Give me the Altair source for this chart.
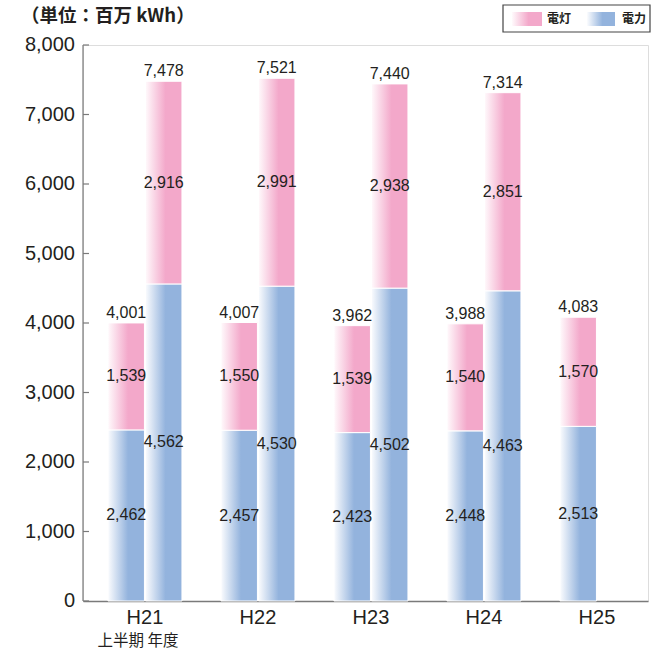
import altair as alt
import pandas as pd

# 販売電力量（単位：百万 kWh）
years = ["H21", "H22", "H23", "H24", "H25"]
periods = ["上半期", "年度"]

half_power = [2462, 2457, 2423, 2448, 2513]   # 上半期 電力
half_light = [1539, 1550, 1539, 1540, 1570]   # 上半期 電灯
half_total = [4001, 4007, 3962, 3988, 4083]   # 上半期 合計

year_power = [4562, 4530, 4502, 4463]         # 年度 電力
year_light = [2916, 2991, 2938, 2851]         # 年度 電灯
year_total = [7478, 7521, 7440, 7314]         # 年度 合計

y_ticks = [0, 1000, 2000, 3000, 4000, 5000, 6000, 7000, 8000]
legend_names = ["電灯", "電力"]

NUM_FONT = "Liberation Sans"
JP_FONT = "Noto Sans CJK JP"
TEXT_COLOR = "#231f20"
AXIS_COLOR = "#7a7a7a"
BLUE = "#93b3dd"
PINK = "#f3a8ca"

rows = []
for i, yr in enumerate(years):
    rows.append(dict(year=yr, period=periods[0], power=half_power[i],
                     light=half_light[i], total=half_total[i]))
for i, yr in enumerate(years[: len(year_power)]):
    rows.append(dict(year=yr, period=periods[1], power=year_power[i],
                     light=year_light[i], total=year_total[i]))
df = pd.DataFrame(rows)
ticks_df = pd.DataFrame({"v": y_ticks})


def grad(color, start):
    return alt.Gradient(
        gradient="linear",
        stops=[
            alt.GradientStop(offset=0, color=start),
            alt.GradientStop(offset=0.55, color=color),
            alt.GradientStop(offset=1, color=color),
        ],
        x1=0, x2=1, y1=0, y2=0,
    )


x_enc = alt.X(
    "year:N",
    sort=years,
    title=None,
    scale=alt.Scale(paddingInner=0.345, paddingOuter=0.1725, align=0.64),
    axis=alt.Axis(
        labelAngle=0, ticks=False, labelFontSize=20, labelFont=NUM_FONT,
        labelColor=TEXT_COLOR, labelPadding=6, domainColor=AXIS_COLOR,
        domainWidth=1.5, grid=False,
    ),
)
xo_enc = alt.XOffset(
    "period:N", sort=periods,
    scale=alt.Scale(domain=periods, paddingInner=0.027, paddingOuter=0),
)
y_scale = alt.Scale(domain=[0, 8000], nice=False)


def y_of(field):
    return alt.Y(field, scale=y_scale, title=None, axis=None)


base = alt.Chart(df).encode(x=x_enc, xOffset=xo_enc)

blue_bars = base.mark_bar(
    fill=grad(BLUE, "#fbfcfe"), stroke="white", strokeWidth=1
).encode(y=y_of("power:Q"))

pink_bars = base.mark_bar(
    fill=grad(PINK, "#fffafc"), stroke="white", strokeWidth=1
).encode(y=y_of("total:Q"), y2="power:Q")

label_style = dict(fontSize=16, font=NUM_FONT, color=TEXT_COLOR)

power_labels = base.transform_calculate(
    ym="datum.power / 2"
).mark_text(baseline="middle", **label_style).encode(
    y=y_of("ym:Q"),
    text=alt.Text("power:Q", format=","),
)

light_labels = base.transform_calculate(
    ym="datum.power + datum.light / 2"
).mark_text(baseline="middle", **label_style).encode(
    y=y_of("ym:Q"),
    text=alt.Text("light:Q", format=","),
)

total_labels = base.mark_text(
    baseline="alphabetic", dy=-5, **label_style
).encode(
    y=y_of("total:Q"),
    text=alt.Text("total:Q", format=","),
)

# value axis: line, inward ticks and labels
y_line = alt.Chart(alt.Data(values=[{}])).mark_rule(
    color=AXIS_COLOR, strokeWidth=1.2
).encode(x=alt.value(0), y=alt.value(0), y2=alt.value(556))

tick_marks = alt.Chart(ticks_df).mark_rule(
    color=AXIS_COLOR, strokeWidth=1.2
).encode(
    y=y_of("v:Q"),
    x=alt.value(0),
    x2=alt.value(6),
)

tick_labels = alt.Chart(ticks_df).mark_text(
    align="right", baseline="middle", fontSize=20, font=NUM_FONT,
    color=TEXT_COLOR, dx=-8,
).encode(
    y=y_of("v:Q"),
    x=alt.value(0),
    text=alt.Text("v:Q", format=","),
)

period_note = alt.Chart(
    pd.DataFrame({"year": [years[0]], "note": ["上半期 年度"]})
).mark_text(
    dx=-7, fontSize=15.5, font=JP_FONT, color=TEXT_COLOR, baseline="middle"
).encode(
    x=alt.X("year:N", sort=years),
    y=alt.value(596),
    text="note:N",
)

one = alt.Data(values=[{}])

unit_title = alt.Chart(one).mark_text(
    text="（単位：百万 kWh）", align="left", baseline="middle",
    fontSize=18.5, font=JP_FONT, fontWeight="bold", color=TEXT_COLOR,
).encode(x=alt.value(-62), y=alt.value(-29))

legend_box = alt.Chart(one).mark_rect(
    fill="white", stroke="#444444", strokeWidth=1.2
).encode(x=alt.value(420), x2=alt.value(567), y=alt.value(-40), y2=alt.value(-13))

legend_pink = alt.Chart(one).mark_rect(fill=grad(PINK, "#fffafc")).encode(
    x=alt.value(429), x2=alt.value(459), y=alt.value(-33), y2=alt.value(-19)
)
legend_blue = alt.Chart(one).mark_rect(fill=grad(BLUE, "#fbfcfe")).encode(
    x=alt.value(504), x2=alt.value(532), y=alt.value(-33), y2=alt.value(-19)
)
legend_text_style = dict(
    align="left", baseline="middle", fontSize=12, font=JP_FONT,
    fontWeight="bold", color=TEXT_COLOR,
)
legend_t1 = alt.Chart(one).mark_text(text=legend_names[0], **legend_text_style).encode(
    x=alt.value(464), y=alt.value(-26)
)
legend_t2 = alt.Chart(one).mark_text(text=legend_names[1], **legend_text_style).encode(
    x=alt.value(539), y=alt.value(-26)
)

chart = alt.layer(
    blue_bars, pink_bars, power_labels, light_labels, total_labels,
    y_line, tick_marks, tick_labels, period_note, unit_title,
    legend_box, legend_pink, legend_blue, legend_t1, legend_t2,
).properties(
    width=565,
    height=556,
    autosize=alt.AutoSizeParams(type="none"),
    padding={"left": 83, "top": 45, "right": 3, "bottom": 48},
).configure_view(stroke=None).configure(background="white")

chart.save("out.html", embed_options={"renderer": "svg", "actions": False})
